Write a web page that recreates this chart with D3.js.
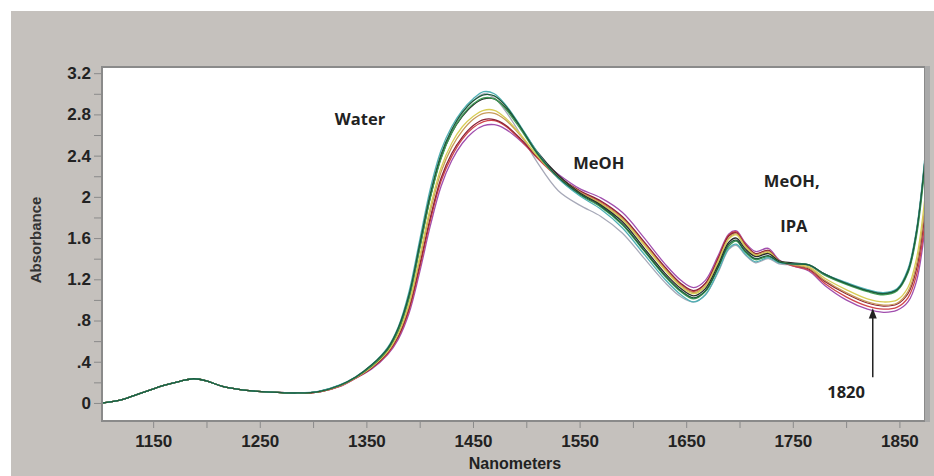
<!DOCTYPE html>
<html>
<head>
<meta charset="utf-8">
<script src="https://cdn.jsdelivr.net/npm/d3@7"></script>
<style>
  body { margin: 0; background: #fff; }
  svg { display: block; }
</style>
</head>
<body>
<div class="container"></div>
<script>
// chart data
const wavelengths = [1102, 1120, 1140, 1160, 1175, 1188, 1200, 1215, 1235, 1260, 1285, 1305, 1325, 1340,
  1355, 1370, 1380, 1390, 1400, 1410, 1420, 1430, 1440, 1450, 1460, 1470, 1480, 1495, 1510, 1530, 1550,
  1570, 1590, 1610, 1630, 1645, 1657, 1668, 1680, 1690, 1697, 1705, 1715, 1727, 1737, 1750, 1765, 1780,
  1800, 1820, 1835, 1848, 1858, 1866, 1874];

const gray = [0.0, 0.03, 0.10, 0.17, 0.21, 0.235, 0.215, 0.16, 0.125, 0.105, 0.097, 0.11, 0.17, 0.25,
  0.36, 0.52, 0.71, 1.02, 1.50, 2.00, 2.39, 2.64, 2.81, 2.93, 3.00, 2.96, 2.84, 2.60, 2.34, 2.06, 1.92,
  1.81, 1.65, 1.41, 1.17, 1.03, 0.98, 1.05, 1.27, 1.49, 1.53, 1.44, 1.36, 1.40, 1.35, 1.34, 1.33, 1.24,
  1.16, 1.09, 1.06, 1.10, 1.27, 1.64, 2.34];
const magenta = [0.0, 0.03, 0.10, 0.17, 0.21, 0.235, 0.215, 0.16, 0.125, 0.105, 0.097, 0.105, 0.16, 0.24,
  0.33, 0.47, 0.62, 0.87, 1.27, 1.72, 2.10, 2.35, 2.52, 2.63, 2.69, 2.70, 2.66, 2.54, 2.39, 2.22, 2.08,
  1.99, 1.85, 1.61, 1.35, 1.19, 1.12, 1.19, 1.43, 1.64, 1.67, 1.56, 1.47, 1.50, 1.39, 1.33, 1.28, 1.14,
  1.00, 0.91, 0.88, 0.90, 0.98, 1.18, 1.70];
const red = [0.0, 0.03, 0.10, 0.17, 0.21, 0.235, 0.215, 0.16, 0.125, 0.105, 0.097, 0.105, 0.16, 0.24,
  0.34, 0.48, 0.64, 0.90, 1.31, 1.77, 2.15, 2.39, 2.56, 2.67, 2.73, 2.74, 2.69, 2.55, 2.38, 2.19, 2.05,
  1.95, 1.80, 1.56, 1.31, 1.15, 1.08, 1.16, 1.41, 1.63, 1.66, 1.55, 1.45, 1.48, 1.38, 1.33, 1.29, 1.16,
  1.03, 0.94, 0.91, 0.93, 1.02, 1.24, 1.76];
const darkRed = [0.0, 0.03, 0.10, 0.17, 0.21, 0.235, 0.215, 0.16, 0.125, 0.105, 0.097, 0.105, 0.165, 0.245,
  0.34, 0.49, 0.65, 0.92, 1.34, 1.80, 2.18, 2.42, 2.58, 2.69, 2.75, 2.75, 2.70, 2.56, 2.39, 2.20, 2.06,
  1.96, 1.81, 1.57, 1.32, 1.16, 1.09, 1.16, 1.40, 1.62, 1.65, 1.54, 1.45, 1.48, 1.38, 1.34, 1.30, 1.18,
  1.06, 0.97, 0.94, 0.96, 1.06, 1.30, 1.85];
const tan = [0.0, 0.03, 0.10, 0.17, 0.21, 0.235, 0.215, 0.16, 0.125, 0.105, 0.097, 0.108, 0.165, 0.245,
  0.35, 0.50, 0.67, 0.95, 1.39, 1.86, 2.24, 2.48, 2.64, 2.75, 2.81, 2.81, 2.75, 2.59, 2.40, 2.20, 2.05,
  1.94, 1.79, 1.55, 1.30, 1.14, 1.07, 1.14, 1.38, 1.60, 1.64, 1.53, 1.44, 1.47, 1.38, 1.34, 1.31, 1.19,
  1.07, 0.98, 0.95, 0.97, 1.08, 1.34, 1.92];
const yellow = [0.0, 0.03, 0.10, 0.17, 0.21, 0.235, 0.215, 0.16, 0.125, 0.105, 0.097, 0.108, 0.168, 0.248,
  0.35, 0.50, 0.68, 0.97, 1.42, 1.90, 2.28, 2.52, 2.68, 2.78, 2.84, 2.84, 2.77, 2.60, 2.40, 2.19, 2.04,
  1.93, 1.78, 1.54, 1.29, 1.13, 1.06, 1.13, 1.37, 1.59, 1.63, 1.52, 1.43, 1.46, 1.38, 1.35, 1.32, 1.21,
  1.10, 1.01, 0.98, 1.00, 1.12, 1.40, 2.00];
const black = [0.0, 0.03, 0.10, 0.17, 0.21, 0.235, 0.215, 0.16, 0.125, 0.105, 0.097, 0.11, 0.17, 0.25,
  0.36, 0.52, 0.71, 1.03, 1.51, 2.00, 2.38, 2.62, 2.78, 2.89, 2.95, 2.95, 2.87, 2.67, 2.44, 2.21, 2.04,
  1.92, 1.76, 1.51, 1.26, 1.11, 1.04, 1.11, 1.34, 1.56, 1.60, 1.50, 1.42, 1.45, 1.38, 1.36, 1.34, 1.25,
  1.16, 1.09, 1.06, 1.10, 1.28, 1.66, 2.37];
const green = [0.0, 0.03, 0.10, 0.17, 0.21, 0.235, 0.215, 0.16, 0.125, 0.105, 0.097, 0.11, 0.17, 0.25,
  0.36, 0.52, 0.71, 1.02, 1.50, 1.99, 2.37, 2.62, 2.79, 2.90, 2.96, 2.95, 2.86, 2.65, 2.42, 2.18, 2.02,
  1.90, 1.73, 1.48, 1.23, 1.08, 1.01, 1.08, 1.31, 1.52, 1.57, 1.47, 1.39, 1.42, 1.37, 1.35, 1.34, 1.24,
  1.15, 1.08, 1.05, 1.09, 1.26, 1.62, 2.30];
const teal = [0.0, 0.03, 0.10, 0.17, 0.21, 0.235, 0.215, 0.16, 0.125, 0.105, 0.097, 0.112, 0.175, 0.255,
  0.37, 0.54, 0.74, 1.08, 1.58, 2.08, 2.45, 2.68, 2.84, 2.95, 3.02, 3.00, 2.90, 2.68, 2.44, 2.18, 2.01,
  1.88, 1.70, 1.45, 1.20, 1.05, 0.98, 1.05, 1.28, 1.50, 1.54, 1.45, 1.37, 1.41, 1.36, 1.35, 1.34, 1.25,
  1.17, 1.10, 1.07, 1.11, 1.30, 1.68, 2.40];
const darkGreen = [0.0, 0.03, 0.10, 0.17, 0.21, 0.235, 0.215, 0.16, 0.125, 0.105, 0.097, 0.11, 0.172, 0.252,
  0.37, 0.53, 0.73, 1.05, 1.54, 2.03, 2.41, 2.65, 2.82, 2.93, 2.99, 2.98, 2.89, 2.67, 2.43, 2.19, 2.03,
  1.91, 1.74, 1.49, 1.24, 1.09, 1.02, 1.09, 1.32, 1.54, 1.58, 1.48, 1.40, 1.43, 1.37, 1.35, 1.34, 1.25,
  1.16, 1.09, 1.06, 1.10, 1.28, 1.66, 2.36];

const seriesList = [gray, magenta, red, darkRed, tan, yellow, black, green, teal, darkGreen];
const seriesColors = ["#a7a9b8", "#a14fae", "#d0444a", "#8c2438", "#c79a58", "#d8cd55",
  "#2a2a2a", "#3f9d55", "#4fb0b4", "#1d5c3c"];

const xTicks = [1150, 1250, 1350, 1450, 1550, 1650, 1750, 1850];
const xMinor = [1200, 1300, 1400, 1500, 1600, 1700, 1800];
const yTicks = [0, 0.4, 0.8, 1.2, 1.6, 2, 2.4, 2.8, 3.2];
const yTickLabels = ["0", ".4", ".8", "1.2", "1.6", "2", "2.4", "2.8", "3.2"];
const yMinor = [0.2, 0.6, 1.0, 1.4, 1.8, 2.2, 2.6, 3.0];

// layout
const width = 934, height = 476;
const plot = { left: 102, top: 67, right: 925, bottom: 421 };

const svg = d3.select(".container")
  .append("svg")
  .attr("width", width)
  .attr("height", height);

// gray window background
svg.append("rect")
  .attr("x", 11).attr("y", 11)
  .attr("width", width - 11).attr("height", height - 11)
  .attr("fill", "#c5c1bd");

const x = d3.scaleLinear().domain([1102, 1874]).range([plot.left, plot.right]);
const y = d3.scaleLinear().domain([-0.175, 3.26]).range([plot.bottom, plot.top]);

// plot area
svg.append("rect")
  .attr("x", plot.left).attr("y", plot.top)
  .attr("width", plot.right - plot.left).attr("height", plot.bottom - plot.top)
  .attr("fill", "#fff")
  .attr("stroke", "#8a8a8a")
  .attr("stroke-width", 2);
// right shading strip
svg.append("rect")
  .attr("x", plot.right).attr("y", plot.top - 1)
  .attr("width", 5).attr("height", plot.bottom - plot.top + 2)
  .attr("fill", "#a9a9a9");

const tickFont = "'Liberation Sans Narrow', 'Arial Narrow', 'Liberation Sans', sans-serif";

// y axis
const yAxis = svg.append("g").attr("transform", `translate(${plot.left - 1},0)`)
  .call(d3.axisLeft(y).tickValues(yTicks).tickSize(7).tickPadding(3)
    .tickFormat((d, i) => yTickLabels[i]));
yAxis.append("g").call(d3.axisLeft(y).tickValues(yMinor).tickSize(7).tickFormat(""));
yAxis.selectAll(".domain").remove();
yAxis.selectAll("line").attr("stroke", "#8a8a8a");
yAxis.selectAll("text")
  .attr("font-family", tickFont).attr("font-weight", "bold")
  .attr("font-size", 17).attr("fill", "#222");

// x axis
const xAxis = svg.append("g").attr("transform", `translate(0,${plot.bottom + 1})`)
  .call(d3.axisBottom(x).tickValues(xTicks).tickSize(6).tickPadding(7).tickFormat(d3.format("d")));
xAxis.append("g").call(d3.axisBottom(x).tickValues(xMinor).tickSize(6).tickFormat(""));
xAxis.selectAll(".domain").remove();
xAxis.selectAll("line").attr("stroke", "#8a8a8a");
xAxis.selectAll("text")
  .attr("font-family", tickFont).attr("font-weight", "bold")
  .attr("font-size", 17).attr("fill", "#222");

// axis titles
svg.append("text")
  .attr("transform", "translate(41,240) rotate(-90)")
  .attr("text-anchor", "middle")
  .attr("font-family", tickFont).attr("font-weight", "bold")
  .attr("font-size", 15).attr("fill", "#333")
  .text("Absorbance");
svg.append("text")
  .attr("x", 515).attr("y", 469)
  .attr("text-anchor", "middle")
  .attr("font-family", tickFont).attr("font-weight", "bold")
  .attr("font-size", 16).attr("fill", "#222")
  .text("Nanometers");

// spectra
const line = d3.line()
  .x((d, i) => x(wavelengths[i]))
  .y(d => y(d))
  .curve(d3.curveCatmullRom.alpha(0.5));

svg.append("defs").append("clipPath").attr("id", "clip")
  .append("rect")
  .attr("x", plot.left + 1).attr("y", plot.top + 1)
  .attr("width", plot.right - plot.left - 2).attr("height", plot.bottom - plot.top - 2);

const spectra = svg.append("g").attr("clip-path", "url(#clip)");
spectra.selectAll("path")
  .data(seriesList)
  .enter()
  .append("path")
  .attr("d", line)
  .attr("fill", "none")
  .attr("stroke", (d, i) => seriesColors[i])
  .attr("stroke-width", 1.3);

// annotations
const noteFont = "'Open Sans', Lato, sans-serif";
function note(txt, nm, val) {
  svg.append("text")
    .attr("x", x(nm)).attr("y", y(val))
    .attr("text-anchor", "middle")
    .attr("font-family", noteFont).attr("font-weight", "bold")
    .attr("font-size", 16.5).attr("fill", "#222")
    .text(txt);
}
note("Water", 1344, 2.70);
note("MeOH", 1568, 2.27);
note("MeOH,", 1749, 2.10);
note("IPA", 1751, 1.66);
note("1820", 1800, 0.05);

// arrow pointing at 1820
svg.append("line")
  .attr("x1", x(1825)).attr("x2", x(1825))
  .attr("y1", y(0.25)).attr("y2", y(0.83))
  .attr("stroke", "#222").attr("stroke-width", 1.5);
svg.append("path")
  .attr("d", d3.line()([[x(1825) - 4, y(0.82)], [x(1825), y(0.92)], [x(1825) + 4, y(0.82)]]))
  .attr("fill", "#222");
</script>
</body>
</html>
